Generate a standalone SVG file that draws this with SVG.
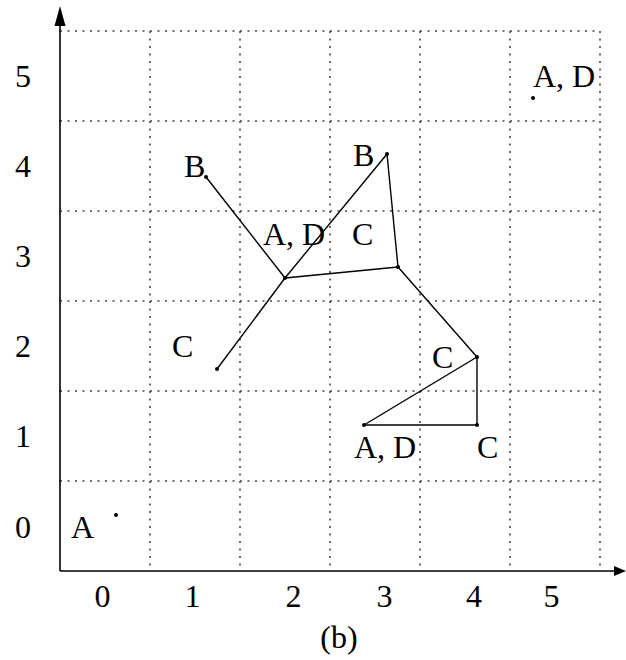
<svg xmlns="http://www.w3.org/2000/svg" width="626" height="660" viewBox="0 0 626 660">
<style>
.grid{stroke:#444;stroke-width:1.6;stroke-dasharray:2 5.5;fill:none}
.axis{stroke:#000;stroke-width:1.6;fill:none}
.edge{stroke:#000;stroke-width:1.4;fill:none}
.pt{fill:#000}
text{font-family:"Liberation Serif","Times New Roman",serif;font-size:32px;fill:#000}
.tick{text-anchor:middle}
</style>
<rect width="626" height="660" fill="#fff"/>
<g id="grid">
<line class="grid" x1="60" y1="31" x2="600" y2="31"/>
<line class="grid" x1="60" y1="121" x2="600" y2="121"/>
<line class="grid" x1="60" y1="211" x2="600" y2="211"/>
<line class="grid" x1="60" y1="301" x2="600" y2="301"/>
<line class="grid" x1="60" y1="391" x2="600" y2="391"/>
<line class="grid" x1="60" y1="481" x2="600" y2="481"/>
<line class="grid" x1="150" y1="31" x2="150" y2="571"/>
<line class="grid" x1="240" y1="31" x2="240" y2="571"/>
<line class="grid" x1="330" y1="31" x2="330" y2="571"/>
<line class="grid" x1="420" y1="31" x2="420" y2="571"/>
<line class="grid" x1="510" y1="31" x2="510" y2="571"/>
<line class="grid" x1="600" y1="31" x2="600" y2="571"/>
</g>
<g id="axes">
<line class="axis" x1="60" y1="571" x2="60" y2="24"/>
<line class="axis" x1="60" y1="571" x2="616" y2="571"/>
<polygon points="60,6 54.5,26 65.5,26" fill="#000"/>
<polygon points="626,571 614,566 614,576" fill="#000"/>
</g>
<g id="ticks">
<text class="tick" x="23" y="87">5</text>
<text class="tick" x="23" y="177">4</text>
<text class="tick" x="23" y="267">3</text>
<text class="tick" x="23" y="357">2</text>
<text class="tick" x="23" y="447">1</text>
<text class="tick" x="23" y="538">0</text>
<text class="tick" x="102.5" y="607">0</text>
<text class="tick" x="192.5" y="607">1</text>
<text class="tick" x="293.5" y="607">2</text>
<text class="tick" x="384.5" y="607">3</text>
<text class="tick" x="474" y="607">4</text>
<text class="tick" x="551.5" y="607">5</text>
<text class="tick" x="339" y="648">(b)</text>
</g>
<g id="connectors">
<line class="edge" x1="206" y1="177" x2="285" y2="278"/>
<line class="edge" x1="217" y1="369" x2="285" y2="278"/>
<line class="edge" x1="285" y1="278" x2="387" y2="154"/>
<line class="edge" x1="285" y1="278" x2="398" y2="267"/>
<line class="edge" x1="387" y1="154" x2="398" y2="267"/>
<line class="edge" x1="398" y1="267" x2="477" y2="357"/>
<line class="edge" x1="477" y1="357" x2="364" y2="425"/>
<line class="edge" x1="477" y1="357" x2="477" y2="425"/>
<line class="edge" x1="477" y1="425" x2="364" y2="425"/>
</g>
<g id="nA0"><circle class="pt" cx="116" cy="515" r="2"/><text x="71" y="538">A</text></g>
<g id="nAD5"><circle class="pt" cx="533" cy="98" r="2"/><text x="533" y="87">A, D</text></g>
<g id="nB1"><circle class="pt" cx="206" cy="177" r="2"/><text x="184" y="177">B</text></g>
<g id="nB2"><circle class="pt" cx="387" cy="154" r="2"/><text x="353" y="166">B</text></g>
<g id="nJ1"><circle class="pt" cx="285" cy="278" r="2"/><text x="263" y="245">A, D</text></g>
<g id="nJ2"><circle class="pt" cx="398" cy="267" r="2"/><text x="352" y="245">C</text></g>
<g id="nC1"><circle class="pt" cx="217" cy="369" r="2"/><text x="172" y="357">C</text></g>
<g id="nC2"><circle class="pt" cx="477" cy="357" r="2"/><text x="432" y="368">C</text></g>
<g id="nC3"><circle class="pt" cx="477" cy="425" r="2"/><text x="477" y="458">C</text></g>
<g id="nAD1"><circle class="pt" cx="364" cy="425" r="2"/><text x="354" y="458">A, D</text></g>
</svg>
